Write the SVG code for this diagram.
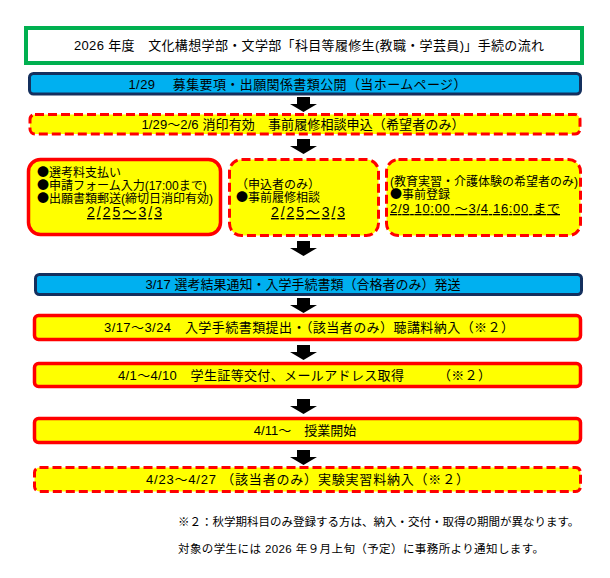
<svg xmlns="http://www.w3.org/2000/svg" xmlns:xlink="http://www.w3.org/1999/xlink" width="610" height="578" viewBox="0 0 610 578">
<style>
text{font-family:"Liberation Sans","Noto Sans CJK JP",sans-serif;fill:#000;}
.j{font-family:"Noto Sans CJK JP",sans-serif;}
.t13{font-size:13px;}
.t12{font-size:12px;}
.t11{font-size:11.5px;}
.c{text-anchor:middle;}
.u{text-decoration:underline;}
.title{fill:#fff;stroke:#00B050;stroke-width:4;}
.blue{fill:#00B0F0;stroke:#14305E;stroke-width:3;}
.ys{fill:#FFFF00;stroke:#FF0000;stroke-width:3.5;}
.yd{fill:#FFFF00;stroke:#FF0000;stroke-width:3;stroke-dasharray:9 4;}
.arr{fill:#000;}
</style>
<defs>
<path id="arrow" d="M297,0 L310,0 L310,7 L317,7 L303.5,15 L290,7 L297,7 Z"/>
</defs>
<rect width="610" height="578" fill="#fff"/>
<g id="connectors" class="arr">
<use xlink:href="#arrow" y="97"/>
<use xlink:href="#arrow" y="139"/>
<use xlink:href="#arrow" y="241"/>
<use xlink:href="#arrow" y="298"/>
<use xlink:href="#arrow" y="345"/>
<use xlink:href="#arrow" y="399"/>
<use xlink:href="#arrow" y="450"/>
</g>
<g id="title">
<rect class="title" x="26" y="28" width="556" height="35"/>
<text class="t13 c" x="309" y="50" textLength="470" lengthAdjust="spacing">2026 年度　文化構想学部・文学部「科目等履修生(教職・学芸員)」手続の流れ</text>
</g>
<g id="n1">
<rect class="blue" x="29.5" y="73.5" width="551" height="20.5" rx="4"/>
<text class="t13 c" x="297.5" y="89" textLength="338" lengthAdjust="spacing">1/29　 募集要項・出願関係書類公開（当ホームページ）</text>
</g>
<g id="n2">
<rect class="yd" x="30" y="114.5" width="550" height="19.5" rx="5"/>
<text class="t13 c" x="303" y="129" textLength="323" lengthAdjust="spacing">1/29～2/6 消印有効　事前履修相談申込（希望者のみ）</text>
</g>
<g id="n3">
<rect class="ys" x="28.5" y="159.5" width="192" height="75" rx="12"/>
<text class="t12 j" x="37" y="177">●選考料支払い</text>
<text class="t12" x="37" y="190"><tspan class="j">●申請フォーム入力</tspan>(17:00<tspan class="j">まで</tspan>)</text>
<text class="t12" x="37" y="203"><tspan class="j">●出願書類郵送</tspan>(<tspan class="j">締切日消印有効</tspan>)</text>
<text class="c u" x="124.5" y="217" font-size="14" textLength="75" lengthAdjust="spacing">2/25～3/3</text>
</g>
<g id="n4">
<rect class="yd" x="229.5" y="159.5" width="149" height="76" rx="12"/>
<text class="t12 j" x="236" y="189">（申込者のみ）</text>
<text class="t12 j" x="236" y="202">●事前履修相談</text>
<text class="c u" x="308" y="217" font-size="14" textLength="74" lengthAdjust="spacing">2/25～3/3</text>
</g>
<g id="n5">
<rect class="yd" x="386.5" y="159.5" width="194" height="76" rx="12"/>
<text class="t12" x="390" y="186">(<tspan class="j">教育実習・介護体験の希望者のみ</tspan>)</text>
<text class="t12 j" x="390" y="199">●事前登録</text>
<text class="t13 u" x="390" y="213" textLength="170" lengthAdjust="spacing">2/9 10:00 ～3/4 16:00 まで</text>
</g>
<g id="n6">
<rect class="blue" x="35.5" y="274.5" width="546" height="20" rx="4"/>
<text class="t13 c" x="303" y="289">3/17  選考結果通知・入学手続書類（合格者のみ）発送</text>
</g>
<g id="n7">
<rect class="ys" x="34.5" y="315.5" width="546" height="24" rx="4"/>
<text class="t13 c" x="309" y="332" textLength="410" lengthAdjust="spacing">3/17～3/24　入学手続書類提出・（該当者のみ）聴講料納入（※２）</text>
</g>
<g id="n8">
<rect class="ys" x="34.5" y="363.5" width="546" height="23" rx="4"/>
<text class="t13 c" x="304.5" y="380" textLength="373" lengthAdjust="spacing">4/1～4/10　学生証等交付、メールアドレス取得　　　（※２）</text>
</g>
<g id="n9">
<rect class="ys" x="34.5" y="418.5" width="546" height="24" rx="4"/>
<text class="t13 c" x="305" y="435">4/11～　授業開始</text>
</g>
<g id="n10">
<rect class="yd" x="34.5" y="467.5" width="546" height="24" rx="5"/>
<text class="t13 c" x="307.5" y="484" textLength="323" lengthAdjust="spacing">4/23～4/27 （該当者のみ）実験実習料納入（※２）</text>
</g>
<g id="notes">
<text class="t11" x="178" y="526">※２：秋学期科目のみ登録する方は、納入・交付・取得の期間が異なります。</text>
<text class="t11" x="178" y="553" textLength="366" lengthAdjust="spacing">対象の学生には 2026 年９月上旬（予定）に事務所より通知します。</text>
</g>
</svg>
